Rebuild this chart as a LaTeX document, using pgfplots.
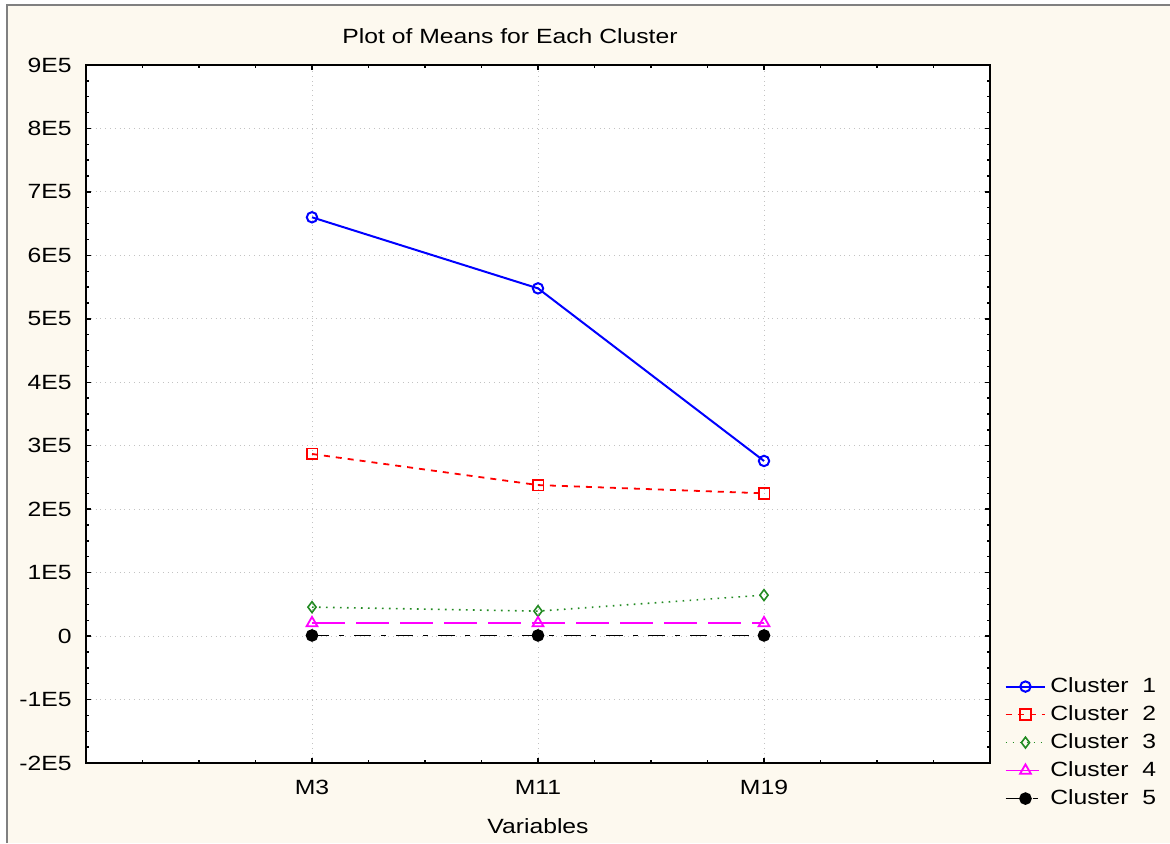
\documentclass[border=0pt]{standalone}
\usepackage{fontspec}
\setmainfont{Liberation Sans}[FakeStretch=1.2]
\usepackage{pgfplots}
\pgfplotsset{compat=1.18}
\definecolor{bgcream}{RGB}{253,249,239}
\definecolor{dgreen}{RGB}{34,139,34}
\definecolor{gridgray}{RGB}{195,195,195}
\definecolor{mag}{RGB}{255,0,255}
\definecolor{pblue}{RGB}{0,0,255}
\definecolor{pred}{RGB}{255,0,0}
\begin{document}
\fontsize{10.3pt}{12.4pt}\selectfont
\begin{tikzpicture}[font=\fontsize{10.3pt}{12.4pt}\selectfont]
\path[use as bounding box] (-43pt,-40pt) rectangle (542pt,381.5pt);
\fill[white] (-43pt,-40pt) rectangle (542pt,381.5pt);
\fill[bgcream] (-39.5pt,-40pt) rectangle (542pt,379pt);
\draw[gray, line width=1pt] (-39.5pt,-40pt) -- (-39.5pt,379pt) -- (542pt,379pt);
\begin{axis}[
  at={(0,0)}, anchor=south west,
  scale only axis, width=452pt, height=349pt,
  xmin=0, xmax=4, ymin=-200000, ymax=900000,
  xtick={1,2,3}, xticklabels={M3,M11,M19},
  minor xtick={0.25,0.5,0.75,1.25,1.5,1.75,2.25,2.5,2.75,3.25,3.5,3.75},
  ytick={-200000,-100000,0,100000,200000,300000,400000,500000,600000,700000,800000,900000},
  yticklabels={-2E5,-1E5,0,1E5,2E5,3E5,4E5,5E5,6E5,7E5,8E5,9E5},
  minor y tick num=3,
  scaled y ticks=false,
  tick align=inside,
  major tick length=2.5pt, minor tick length=1.5pt,
  every tick/.style={black, line width=0.7pt},
  grid=major,
  major grid style={gridgray, dotted, line width=0.5pt},
  axis line style={line width=1pt},
  axis background/.style={fill=white},
  tick label style={font=\fontsize{10.3pt}{12.4pt}\selectfont},
  label style={font=\fontsize{10.3pt}{12.4pt}\selectfont},
  xticklabel style={anchor=center, yshift=-12pt},
  yticklabel style={anchor=east, inner sep=0pt, xshift=-7pt},
  xlabel={Variables},
  every axis x label/.style={at={(axis description cs:0.5,0)}, anchor=center, yshift=-31.5pt},
  legend style={at={(rel axis cs:1.009,0.133)}, anchor=north west, draw=none, fill=none,
    font=\fontsize{10.3pt}{12.4pt}\selectfont,
    row sep=2pt, nodes={inner ysep=1pt, text height=8pt, text depth=2pt}},
  legend image code/.code={\draw[mark repeat=2,mark phase=2] plot coordinates {(0cm,0cm) (0.35cm,0cm) (0.7cm,0cm)};},
  legend cell align=left,
]
\addplot[pblue, line width=1pt, mark=o, mark size=2.6pt, mark options={solid, fill=white}]
  coordinates {(1,660000) (2,548000) (3,276000)};
\addlegendentry{Cluster\ \ 1}
\addplot[pred, line width=0.9pt, dash pattern=on 3pt off 3pt, mark=square, mark size=2.7pt, mark options={solid, fill=white}]
  coordinates {(1,287000) (2,238000) (3,225000)};
\addlegendentry{Cluster\ \ 2}
\addplot[dgreen, line width=0.8pt, dash pattern=on 0.8pt off 2.7pt, mark=diamond, mark size=2.7pt, mark options={solid, fill=white}]
  coordinates {(1,45700) (2,39400) (3,64600)};
\addlegendentry{Cluster\ \ 3}
\addplot[mag, line width=0.9pt, dash pattern=on 16.5pt off 5.5pt, mark=triangle, mark size=3.1pt, mark options={solid, fill=white}]
  coordinates {(1,20500) (2,20500) (3,20500)};
\addlegendentry{Cluster\ \ 4}
\addplot[black, line width=0.9pt, dash pattern=on 8.5pt off 5pt on 2.5pt off 5pt, mark=*, mark size=2.7pt, mark options={solid}]
  coordinates {(1,1000) (2,1000) (3,1000)};
\addlegendentry{Cluster\ \ 5}
\end{axis}
\node at (212pt,363.5pt) {Plot of Means for Each Cluster};
\end{tikzpicture}
\end{document}
